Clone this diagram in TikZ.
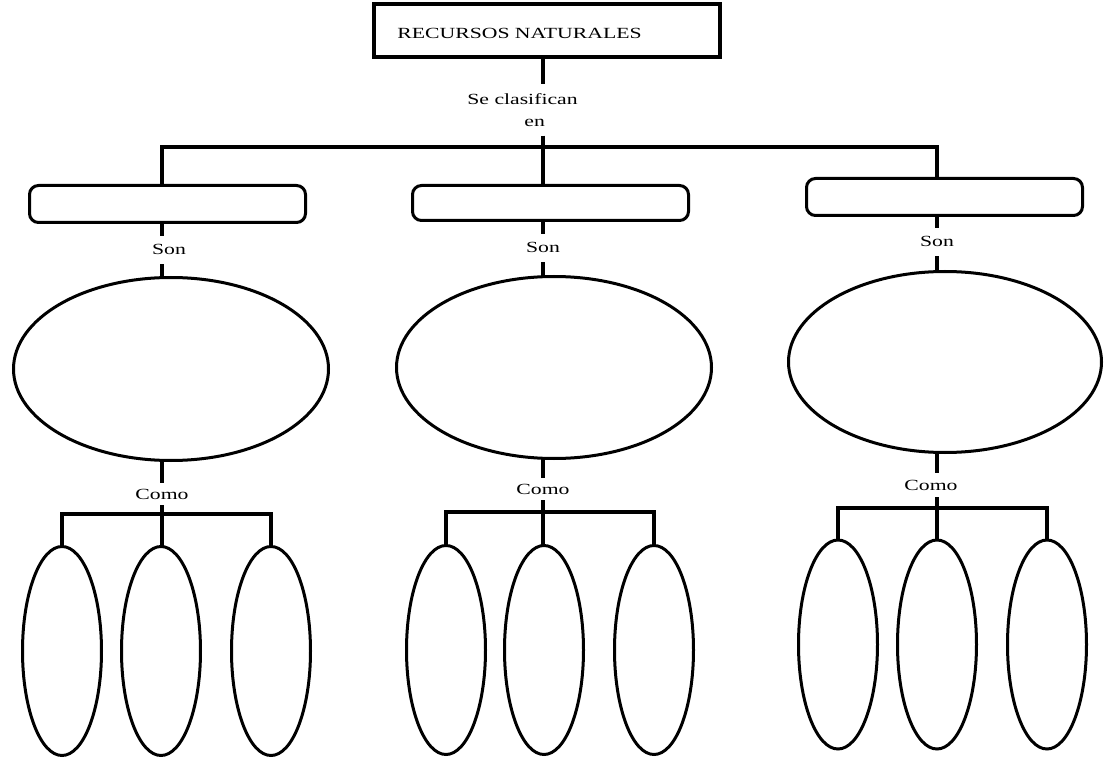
\documentclass[tikz,border=0pt]{standalone}
\usepackage{fontspec}
\setmainfont{Liberation Serif}
\usepackage{graphicx}
\usetikzlibrary{shapes.geometric}
\newcommand{\wt}[1]{\scalebox{1.4}[1]{#1}}
\begin{document}
\begin{tikzpicture}[x=1pt,y=-1pt,
  conn/.style={line width=4pt},
  shp/.style={draw,line width=3pt,inner sep=0pt,outer sep=0pt},
  bigell/.style={shp,ellipse,minimum width=315pt,minimum height=183pt},
  smell/.style={shp,ellipse,minimum width=79pt,minimum height=209pt},
  catbox/.style={shp,rounded corners=9pt,minimum width=276pt,minimum height=37pt},
  lbl/.style={font=\fontsize{15.5}{22}\selectfont,inner xsep=0pt,text height=10pt,text depth=0pt},
  sonlbl/.style={lbl,inner ysep=9pt},
  comolbl/.style={lbl,inner ysep=6pt}]
\useasboundingbox (0,0) rectangle (1104,762);
% helper coordinates for stem positions
\coordinate (x1) at (162,0);
\coordinate (x2) at (543,0);
\coordinate (x3) at (937,0);
\coordinate (bar) at (543,147);
\coordinate (c1) at (162,514);
\coordinate (c2) at (543,512);
\coordinate (c3) at (937,508);
% top
\node[shp,line width=3.5pt,minimum width=346pt,minimum height=53pt] (top) at (547,30.5) {};
\node[lbl,inner ysep=0pt] (title) at (519.5,34) {\wt{RECURSOS NATURALES}};
\node[font=\fontsize{15.5}{22}\selectfont,align=left,inner xsep=0pt,inner ysep=9pt] (cls) at (522.5,110) {\wt{Se clasifican}\\\hspace*{57pt}\wt{en}};
% category boxes
\node[catbox] (b1) at (167.5,204) {};
\node[catbox,minimum height=35pt] (b2) at (550.5,203) {};
\node[catbox] (b3) at (944.5,197) {};
% labels
\node[sonlbl] (son1) at (169,250) {\wt{Son}};
\node[sonlbl] (son2) at (543,248) {\wt{Son}};
\node[sonlbl] (son3) at (937,242) {\wt{Son}};
% big ellipses
\node[bigell] (big1) at (171,369) {};
\node[bigell,minimum height=182pt] (big2) at (554,367.5) {};
\node[bigell,minimum width=313pt,minimum height=181pt] (big3) at (945,362) {};
\node[comolbl] (como1) at (162,494) {\wt{Como}};
\node[comolbl] (como2) at (543,489) {\wt{Como}};
\node[comolbl,inner ysep=7pt] (como3) at (931,485) {\wt{Como}};
% small ellipses
\node[smell] (g1a) at (62,651) {};
\node[smell] (g1b) at (161,651) {};
\node[smell] (g1c) at (271,651) {};
\node[smell] (g2a) at (446,650) {};
\node[smell] (g2b) at (544,650) {};
\node[smell] (g2c) at (654,650) {};
\node[smell] (g3a) at (838,644.5) {};
\node[smell] (g3b) at (937,644.5) {};
\node[smell] (g3c) at (1047,644.5) {};
% connectors
\draw[conn] (top.south -| x2) -- (cls.north -| x2);
\draw[conn] (cls.south -| x2) -- (bar);
\draw[conn] (b1.north -| x1) |- (bar) -| (b3.north -| x3);
\draw[conn] (bar) -- (b2.north -| x2);
\foreach \i in {1,2,3}{
  \draw[conn] (b\i.south -| x\i) -- (son\i.north -| x\i);
  \draw[conn] (son\i.south -| x\i) -- (big\i.north -| x\i);
  \draw[conn] (big\i.south -| x\i) -- (como\i.north -| x\i);
  \draw[conn] (como\i.south -| x\i) -- (c\i);
  \draw[conn] (g\i a.north) |- (c\i) -| (g\i c.north);
  \draw[conn] (c\i) -- (g\i b.north -| c\i);
}
\end{tikzpicture}
\end{document}
